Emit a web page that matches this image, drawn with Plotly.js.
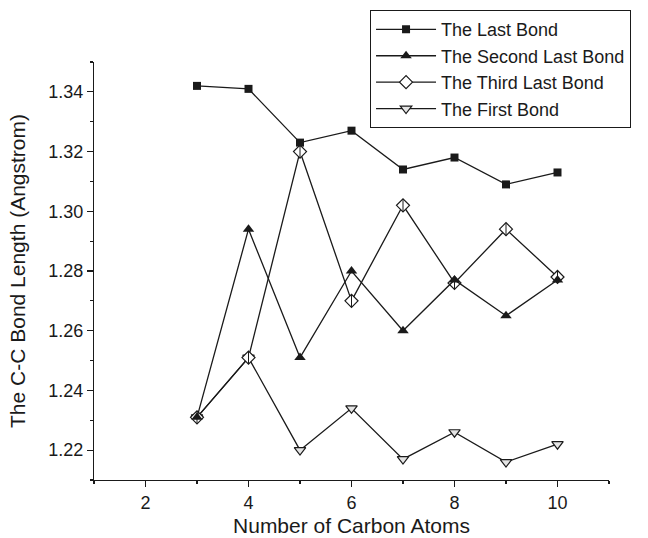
<!DOCTYPE html>
<html>
<head>
<meta charset="utf-8">
<script src="https://cdn.plot.ly/plotly-3.0.1.min.js"></script>
<style>
  html, body { margin: 0; padding: 0; background: #fff; }
  #chart { width: 648px; height: 538px; }
</style>
</head>
<body>
<div id="chart"></div>
<script>
// Number of carbon atoms in the chain
const carbonAtoms = [3, 4, 5, 6, 7, 8, 9, 10];

// C-C bond lengths (Angstrom) for each bond position
const lastBond       = [1.342, 1.341, 1.323, 1.327, 1.314, 1.318, 1.309, 1.313];
const secondLastBond = [1.231, 1.294, 1.251, 1.280, 1.260, 1.277, 1.265, 1.277];
const thirdLastBond  = [1.231, 1.251, 1.320, 1.270, 1.302, 1.276, 1.294, 1.278];
const firstBond      = [1.231, 1.251, 1.220, 1.234, 1.217, 1.226, 1.216, 1.222];

const seriesNames = ["The Last Bond", "The Second Last Bond", "The Third Last Bond", "The First Bond"];

const ink = "#1a1a1a";
const lineStyle = { color: ink, width: 1.3 };
const fontFamily = "Liberation Sans, Arial, sans-serif";

const traces = [
  {
    x: carbonAtoms, y: firstBond, name: seriesNames[3], mode: "lines+markers",
    line: lineStyle,
    marker: { symbol: "triangle-down", size: 10, color: "#e4e4e4", line: { color: ink, width: 1.2 } },
    legendrank: 4
  },
  {
    x: carbonAtoms, y: thirdLastBond, name: seriesNames[2], mode: "lines+markers",
    line: lineStyle,
    marker: { symbol: "diamond", size: 10, color: "#ffffff", line: { color: ink, width: 1.2 } },
    legendrank: 3
  },
  {
    // vertical stroke inside the diamond markers
    x: carbonAtoms, y: thirdLastBond, mode: "markers", showlegend: false, hoverinfo: "skip",
    marker: { symbol: "line-ns-open", size: 9, color: ink, line: { color: ink, width: 1 } }
  },
  {
    x: carbonAtoms, y: secondLastBond, name: seriesNames[1], mode: "lines+markers",
    line: lineStyle,
    marker: { symbol: "triangle-up", size: 10, color: ink },
    legendrank: 2
  },
  {
    x: carbonAtoms, y: lastBond, name: seriesNames[0], mode: "lines+markers",
    line: lineStyle,
    marker: { symbol: "square", size: 8, color: ink },
    legendrank: 1
  }
];

const axisFont = { family: fontFamily, size: 18, color: ink };
const titleFont = { family: fontFamily, size: 21, color: ink };

const layout = {
  width: 648,
  height: 538,
  margin: { l: 94, r: 39, t: 62, b: 58, autoexpand: false },
  paper_bgcolor: "#ffffff",
  plot_bgcolor: "#ffffff",
  showlegend: true,
  legend: {
    x: 0.536, y: 1.124, xanchor: "left", yanchor: "top",
    bgcolor: "#ffffff", bordercolor: ink, borderwidth: 1,
    font: { family: fontFamily, size: 18, color: ink },
    itemwidth: 60,
    traceorder: "normal"
  },
  xaxis: {
    range: [1, 11],
    tickmode: "array",
    tickvals: [2, 4, 6, 8, 10],
    ticks: "outside", ticklen: 6, tickwidth: 1.2, tickcolor: ink,
    minor: { dtick: 1, ticks: "outside", ticklen: 3, tickwidth: 1.2, tickcolor: ink, showgrid: false },
    showline: true, linecolor: ink, linewidth: 1.2,
    showgrid: false, zeroline: false,
    tickfont: axisFont,
    title: { text: "Number of Carbon Atoms", font: titleFont, standoff: 6 }
  },
  yaxis: {
    range: [1.21, 1.35],
    tickmode: "array",
    tickvals: [1.22, 1.24, 1.26, 1.28, 1.30, 1.32, 1.34],
    ticktext: ["1.22", "1.24", "1.26", "1.28", "1.30", "1.32", "1.34"],
    ticks: "outside", ticklen: 6, tickwidth: 1.2, tickcolor: ink,
    minor: { dtick: 0.01, tick0: 1.21, ticks: "outside", ticklen: 3, tickwidth: 1.2, tickcolor: ink, showgrid: false },
    showline: true, linecolor: ink, linewidth: 1.2,
    showgrid: false, zeroline: false,
    tickfont: axisFont,
    title: { text: "The C-C Bond Length (Angstrom)", font: titleFont, standoff: 16 }
  }
};

Plotly.newPlot("chart", traces, layout, { displayModeBar: false, staticPlot: true });
</script>
</body>
</html>
